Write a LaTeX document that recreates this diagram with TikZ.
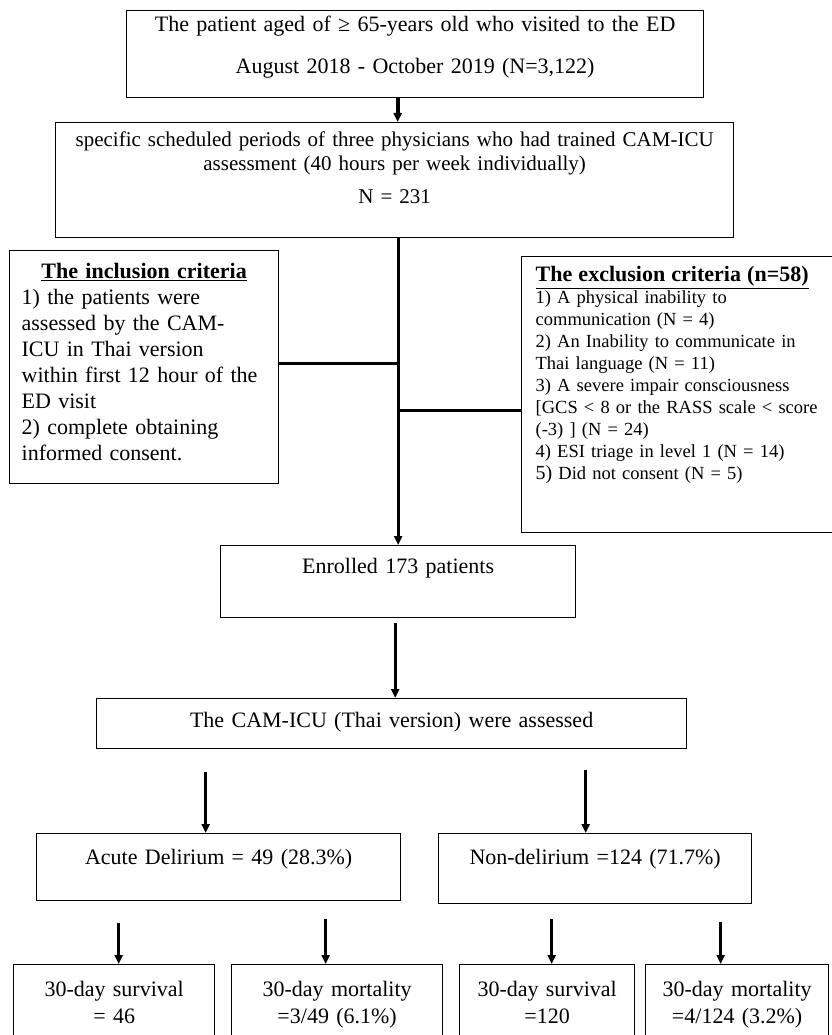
\documentclass[tikz,border=0pt]{standalone}
\usepackage{fontspec}
\setmainfont{Liberation Serif}
\usepackage{tikz}
\usetikzlibrary{arrows.meta,positioning}
\usetikzlibrary{calc}
\newcommand{\bigtxt}{\fontsize{22}{26}\selectfont}
\newcommand{\smalltxt}{\fontsize{18.5}{22}\selectfont}

\begin{document}
\begin{tikzpicture}[x=1pt,y=-1pt,
  box/.style={draw=black, line width=1.3pt, anchor=north west, inner xsep=7pt, inner ysep=0pt, align=center, font=\bigtxt},
  arr/.style={line width=3pt, -{Triangle[width=8pt,length=9pt]}},
  branch/.style={line width=3pt}]
\useasboundingbox (0,0) rectangle (831,1035);
\node[box, text width=563pt, text height=21pt, text depth=66pt] (top) at (126,10) {The patient aged of ≥ 65-years old who visited to the ED\\[16pt]August 2018 - October 2019 (N=3,122)};
\node[box, text width=664pt, text height=24pt, text depth=91pt, font=\fontsize{21}{24}\selectfont] (sec) at (55,122) {specific scheduled periods of three physicians who had trained CAM-ICU\\assessment (40 hours per week individually)\\[9pt]N = 231};
\node[box, align=left, text width=245pt, inner xsep=12pt, text height=28pt, text depth=205pt] (incl) at (9,250) {\makebox[\hsize]{\bfseries\underline{The inclusion criteria}}\\
1) the patients were\\
assessed by the CAM-\\
ICU in Thai version\\
within first 12 hour of the\\
ED visit\\
2) complete obtaining\\
informed consent.};
\node[box, align=left, text width=290pt, inner xsep=14pt, text height=25pt, text depth=251pt, font=\smalltxt] (excl) at (521,256) {{\fontsize{22}{22}\selectfont\bfseries\underline{The exclusion criteria (n=58)}}\\
1) A physical inability to\\
communication (N = 4)\\
2) An Inability to communicate in\\
Thai language (N = 11)\\
3) A severe impair consciousness\\{}
[GCS < 8 or the RASS scale < score\\
(-3) ] (N = 24)\\
4) ESI triage in level 1 (N = 14)\\
{\fontsize{20}{22}\selectfont 5)} Did not consent (N = 5)};
\node[box, text width=341pt, text height=28pt, text depth=44pt] (enr) at (220,545) {Enrolled 173 patients};
\node[box, text width=576pt, text height=29pt, text depth=21pt] (cam) at (96,698) {The CAM-ICU (Thai version) were assessed};
\node[box, text width=350pt, text height=31pt, text depth=36pt] (acute) at (36,833) {Acute Delirium = 49 (28.3\%)};
\node[box, text width=299pt, text height=31pt, text depth=39pt] (non) at (438,833) {Non-delirium =124 (71.7\%)};
\node[box, text width=187pt, text height=32pt, text depth=80pt, font=\fontsize{22}{27}\selectfont] (sv1) at (13,964) {30-day survival\\= 46};
\node[box, text width=197pt, text height=32pt, text depth=80pt, font=\fontsize{22}{27}\selectfont] (mt1) at (231,964) {30-day mortality\\=3/49 (6.1\%)};
\node[box, text width=161pt, text height=32pt, text depth=80pt, font=\fontsize{22}{27}\selectfont] (sv2) at (459,964) {30-day survival\\=120};
\node[box, text width=169pt, text height=32pt, text depth=80pt, font=\fontsize{22}{27}\selectfont] (mt2) at (645,964) {30-day mortality\\=4/124 (3.2\%)};
\coordinate (s1) at ($(sec.north)+(3,0)$);
\draw[arr, line width=4pt] (s1 |- top.south) -- (s1);
\draw[arr] (enr.north |- sec.south) -- (enr.north);
\coordinate (j1) at ($(incl.east)+(0,-3.5)$);
\draw[branch] (j1) -- (j1 -| enr.north);
\coordinate (j2) at ($(excl.west)+(0,16)$);
\draw[branch] (j2) -- (j2 -| enr.north);
\coordinate (e1) at ($(enr.south)+(-3,0)$);
\draw[arr, shorten <=5pt] (e1) -- (e1 |- cam.north);
\coordinate (c1) at ($(acute.north)+(-13,0)$);
\draw[arr, shorten <=23pt] (c1 |- cam.south) -- (c1);
\coordinate (c2) at ($(non.north)+(-9.5,0)$);
\draw[arr, shorten <=21pt] (c2 |- cam.south) -- (c2);
\foreach \src/\dst/\dx/\gap in {acute/sv1/4.5/22pt, acute/mt1/-11.5/18pt, non/sv2/4.5/15pt, non/mt2/-16.5/18pt}
  {\coordinate (d) at ($(\dst.north)+(\dx,0)$);
   \draw[arr, shorten <=\gap] (d |- \src.south) -- (d);}
\end{tikzpicture}
\end{document}
